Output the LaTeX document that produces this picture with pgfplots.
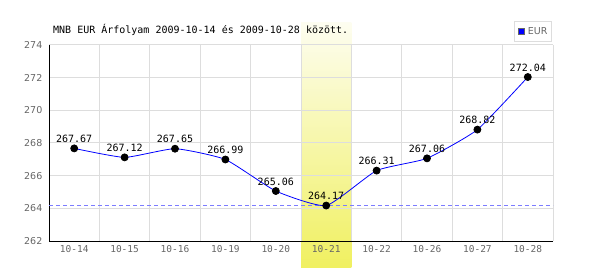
\documentclass[border=0pt]{standalone}
\usepackage{fontspec}
\usepackage{pgfplots}
\pgfplotsset{compat=1.18}
\newfontfamily\monof{DejaVu Sans Mono}
\newfontfamily\sansf{DejaVu Sans}
\definecolor{gridc}{HTML}{DDDDDD}
\definecolor{tickc}{HTML}{666666}
\definecolor{dashc}{HTML}{7C7CFF}
\definecolor{hltop}{HTML}{FDFDF0}
\definecolor{hlbot}{HTML}{F0F060}
\pgfplotsset{layers/mylayers/.define layer set={axis background,axis grid,highlight,axis ticks,axis lines,axis tick labels,pre main,main,axis descriptions,axis foreground}{}}
\begin{document}
\begin{tikzpicture}
\begin{axis}[
  set layers=mylayers,
  scale only axis, width=504bp, height=196bp,
  xmin=-0.5, xmax=9.5, ymin=262, ymax=274,
  clip=false,
  axis x line*=bottom, axis y line*=left,
  axis line style={black, line width=1bp},
  xtick={0,...,9},
  xticklabels={10-14,10-15,10-16,10-19,10-20,10-21,10-22,10-26,10-27,10-28},
  minor xtick={-0.5,0.5,...,9.5},
  ytick={262,264,...,274},
  xmajorgrids=false, xminorgrids=true, ymajorgrids=true,
  major grid style={gridc, line width=1bp},
  minor grid style={gridc, line width=1bp},
  major tick length=0pt, minor tick length=0pt,
  /pgf/number format/assume math mode=true,
  yticklabel style={font=\sansf\fontsize{9.5bp}{10bp}\selectfont, text=tickc, inner sep=0pt, xshift=-6.5bp},
  xticklabel style={font=\monof\fontsize{9.5bp}{11bp}\selectfont, text=tickc, inner sep=0pt, yshift=-4bp},
  legend style={at={(1,1)}, anchor=south east, xshift=-1bp, yshift=3bp, draw=gridc, line width=1bp, fill=white,
    font=\sansf\fontsize{9.5bp}{10bp}\selectfont, text=tickc, inner xsep=4bp, inner ysep=6bp,
    nodes={inner sep=0pt}},
  legend cell align=left,
  legend image code/.code={\draw[black!60, fill=blue, line width=0.6bp] (0bp,-3bp) rectangle (6bp,3bp); \path (9bp,0bp);},
]
\begin{pgfonlayer}{highlight}
\fill[top color=hltop, bottom color=hlbot] (axis cs:4.5,275.35) rectangle (axis cs:5.5,260.35);
\end{pgfonlayer}
\addplot[dashc, line width=1bp, dash pattern=on 4bp off 3bp, forget plot] coordinates {(-0.5,264.17) (9.5,264.17)};
\addplot[blue, line width=0.8bp, smooth, tension=0.3, mark=*, mark size=3.5bp, mark options={black, fill=black},
  nodes near coords={\pgfmathprintnumber[fixed,fixed zerofill,precision=2]{\pgfplotspointmeta}},
  nodes near coords style={font=\monof\fontsize{10bp}{12bp}\selectfont, anchor=base, yshift=6bp, inner sep=0pt, text=black}]
coordinates {(0,267.67) (1,267.12) (2,267.65) (3,266.99) (4,265.06) (5,264.17) (6,266.31) (7,267.06) (8,268.82) (9,272.04)};
\addlegendentry{EUR\hspace{6bp}}
\end{axis}
\node[anchor=base west, inner sep=0pt, font=\monof\fontsize{10bp}{12bp}\selectfont] at (4bp,207bp) {MNB EUR Árfolyam 2009-10-14 és 2009-10-28 között.};
\pgfresetboundingbox
\path[use as bounding box] (-49bp,-29bp) rectangle (551bp,241bp);
\end{tikzpicture}
\end{document}
